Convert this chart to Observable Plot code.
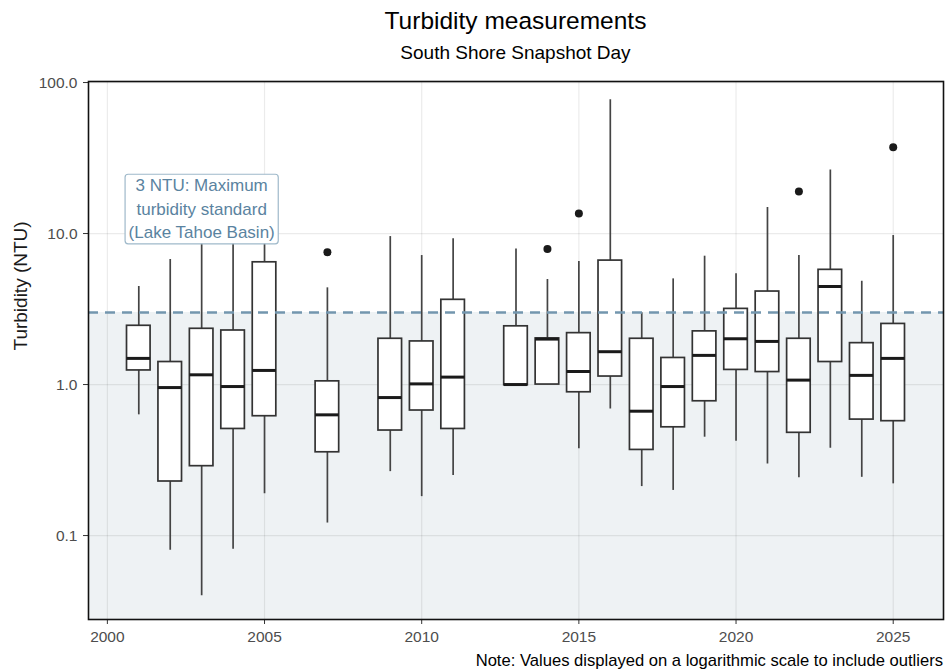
<!DOCTYPE html>
<html>
<head>
<meta charset="utf-8">
<script src="https://cdn.jsdelivr.net/npm/d3@7"></script>
<script src="https://cdn.jsdelivr.net/npm/@observablehq/plot@0.6"></script>
<style>
  html, body { margin: 0; padding: 0; background: #ffffff; }
  #wrap { position: relative; width: 945px; height: 671px; font-family: "Liberation Sans", Arial, sans-serif; overflow: hidden; }
  .ttl { position: absolute; left: 88px; width: 855px; text-align: center; color: #000; white-space: nowrap; }
  #title { top: 9px; font-size: 24.5px; line-height: 24px; }
  #subtitle { top: 43px; font-size: 19px; line-height: 19px; }
  #caption { position: absolute; right: 2px; top: 653px; font-size: 16.6px; line-height: 16px; color: #000; white-space: nowrap; }
  #chart { position: absolute; left: 0; top: 62px; }
</style>
</head>
<body>
<div id="wrap">
  <div id="title" class="ttl">Turbidity measurements</div>
  <div id="subtitle" class="ttl">South Shore Snapshot Day</div>
  <div id="chart"></div>
  <div id="caption">Note: Values displayed on a logarithmic scale to include outliers</div>
</div>
<script>
// ---- data ----
const years       = [2001, 2002, 2003, 2004, 2005, 2007, 2009, 2010, 2011, 2013, 2014, 2015, 2016, 2017, 2018, 2019, 2020, 2021, 2022, 2023, 2024, 2025];
const whiskerLow  = [0.63, 0.080, 0.040, 0.081, 0.189, 0.121, 0.265, 0.181, 0.25, 0.99, 1.0, 0.375, 0.69, 0.211, 0.199, 0.448, 0.421, 0.298, 0.241, 0.379, 0.243, 0.22];
const q1          = [1.24, 0.228, 0.288, 0.508, 0.617, 0.356, 0.496, 0.673, 0.508, 0.99, 1.0, 0.889, 1.13, 0.369, 0.521, 0.775, 1.25, 1.21, 0.479, 1.41, 0.586, 0.572];
const median      = [1.49, 0.955, 1.16, 0.97, 1.24, 0.63, 0.82, 1.01, 1.12, 1.0, 2.0, 1.22, 1.65, 0.666, 0.97, 1.56, 2.01, 1.93, 1.07, 4.46, 1.15, 1.49];
const q3          = [2.45, 1.41, 2.34, 2.28, 6.45, 1.05, 2.01, 1.93, 3.64, 2.43, 2.02, 2.19, 6.62, 2.01, 1.50, 2.25, 3.17, 4.13, 2.01, 5.75, 1.88, 2.52];
const whiskerHigh = [4.46, 6.73, 13, 10, 12, 4.37, 9.55, 7.15, 9.22, 7.91, 4.96, 6.53, 76.8, 2.99, 5.01, 7.08, 5.41, 14.9, 7.15, 26.4, 4.83, 9.7];
const outlierYears  = [2007, 2014, 2015, 2022, 2025];
const outlierValues = [7.52, 7.91, 13.6, 19.0, 37.3];

const xTicks = [2000, 2005, 2010, 2015, 2020, 2025];
const yTicks = [0.1, 1, 10, 100];
const threshold = 3;
const annotationText = "3 NTU: Maximum\nturbidity standard\n(Lake Tahoe Basin)";
const annotationYear = 2003;
const annotationValue = 15;
const xDomain = [1999.4, 2026.6];
const yDomain = [0.0278, 101.6];
const halfWidth = 0.375;

// ---- tables built from the arrays ----
const boxes = years.map((year, i) => ({
  year, lo: whiskerLow[i], q1: q1[i], med: median[i], q3: q3[i], hi: whiskerHigh[i]
}));
const outliers = outlierYears.map((year, i) => ({ year, value: outlierValues[i] }));
const annotation = [{ year: annotationYear, value: annotationValue, label: annotationText }];

const chart = Plot.plot({
  width: 945,
  height: 583,
  marginTop: 19,
  marginBottom: 26,
  marginLeft: 88,
  marginRight: 2,
  style: { fontFamily: '"Liberation Sans", Arial, sans-serif', fontSize: "15.5px", background: "transparent", overflow: "visible" },
  x: { type: "linear", domain: xDomain },
  y: { type: "log", domain: yDomain },
  marks: [
    Plot.rect([{}], { x1: () => xDomain[0], x2: () => xDomain[1], y1: () => yDomain[0], y2: () => threshold, fill: "#eef2f4" }),
    Plot.gridX(xTicks, { stroke: "#000", strokeOpacity: 0.08, strokeWidth: 1.2 }),
    Plot.gridY(yTicks, { stroke: "#000", strokeOpacity: 0.08, strokeWidth: 1.2 }),
    Plot.ruleX(boxes, { x: "year", y1: "lo", y2: "hi", stroke: "#444", strokeWidth: 1.7 }),
    Plot.rect(boxes, { x1: d => d.year - halfWidth, x2: d => d.year + halfWidth, y1: "q1", y2: "q3", fill: "white", stroke: "#333", strokeWidth: 1.7 }),
    Plot.ruleY(boxes, { y: "med", x1: d => d.year - halfWidth, x2: d => d.year + halfWidth, stroke: "#1a1a1a", strokeWidth: 3 }),
    Plot.dot(outliers, { x: "year", y: "value", r: 4, fill: "#1a1a1a", stroke: null }),
    Plot.ruleY([threshold], { stroke: "#7396ae", strokeWidth: 2.5, strokeDasharray: "10,7" }),
    Plot.text(annotation, { x: "year", y: "value", text: "label", fill: "#5a83a0", fontSize: 17, lineHeight: 1.4, textAnchor: "middle" }),
    Plot.axisX(xTicks, { tickFormat: "d", tickSize: 5, tickPadding: 6, label: null, stroke: "#333", fill: "#4d4d4d" }),
    Plot.axisY(yTicks, { tickFormat: d3.format(".1f"), tickSize: 5, tickPadding: 6, label: null, stroke: "#333", fill: "#4d4d4d" }),
    Plot.text(["Turbidity (NTU)"], { text: d => d, frameAnchor: "left", dx: -68, rotate: -90, fontSize: 19, fill: "#1a1a1a" }),
    Plot.frame({ stroke: "#111", strokeWidth: 1.6 })
  ]
});

document.getElementById("chart").appendChild(chart);

// white rounded box behind the annotation text, sized from the rendered text
const annText = Array.from(chart.querySelectorAll("text")).find(t => t.textContent.includes("3 NTU"));
if (annText) {
  const g = annText.parentNode;
  const bb = annText.getBBox();
  const tr = annText.getAttribute("transform") || "";
  const padX = 3.5, padY = 1.5;
  const rect = document.createElementNS("http://www.w3.org/2000/svg", "rect");
  rect.setAttribute("x", bb.x - padX);
  rect.setAttribute("y", bb.y - padY);
  rect.setAttribute("width", bb.width + 2 * padX);
  rect.setAttribute("height", bb.height + 2 * padY);
  rect.setAttribute("rx", 3);
  rect.setAttribute("fill", "white");
  rect.setAttribute("stroke", "#9fb9ca");
  rect.setAttribute("stroke-width", 1.2);
  if (tr) rect.setAttribute("transform", tr);
  g.insertBefore(rect, annText);
}
</script>
</body>
</html>
